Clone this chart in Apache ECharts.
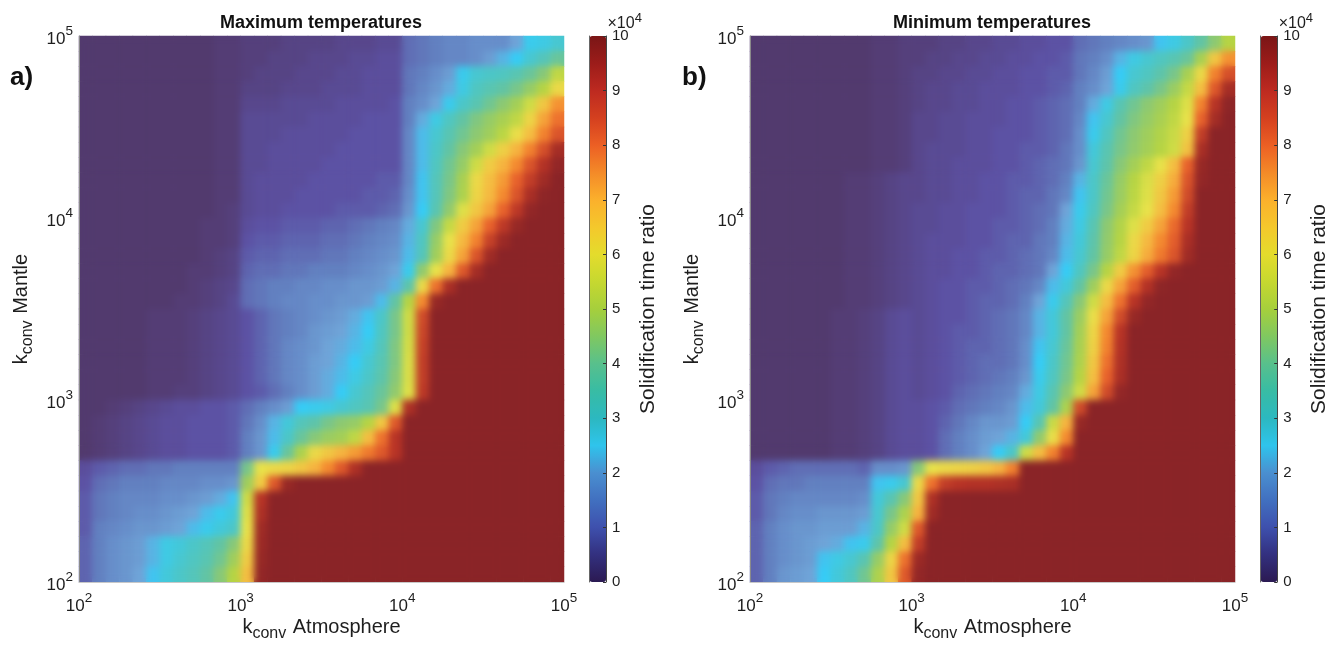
<!DOCTYPE html>
<html><head><meta charset="utf-8">
<style>html,body{margin:0;padding:0;background:#fff}#c{width:1342px;height:645px}
canvas[data-zr-dom-id="zr_1"]{filter:blur(3.5px);clip-path:path('M79 36H564V582H79Z M750 36H1235V582H750Z')}</style>
<script src="https://cdn.jsdelivr.net/npm/echarts@6/dist/echarts.min.js"></script>
</head><body><div id="c"></div>
<script>
// Cell values in thousands; rows run top to bottom (k Mantle 1e5 -> 1e2), columns left to right (k Atmosphere 1e2 -> 1e5).
const maxTemps = [
[3,3,3,3,3,3,3,3,3,3,4,4, 5,5,5,6,6,6,6,7,7,7,8,8, 13,14,15,16,16,17,17,17,20,26,27,29],
[3,3,3,3,3,3,3,3,3,3,4,4, 5,5,6,6,6,7,7,7,8,8,9,9, 13,14,15,16,16,17,19,22,25,29,32,36],
[3,3,3,3,3,3,3,3,3,3,4,4, 5,6,6,6,7,7,7,8,8,9,9,9, 14,15,17,19,26,29,30,31,33,36,40,52],
[3,3,3,3,3,3,3,3,3,3,4,4, 6,6,6,7,7,7,8,8,8,9,9,9, 14,16,18,21,27,31,33,35,38,43,50,62],
[3,3,3,3,3,3,3,3,3,3,4,4, 7,7,7,8,8,8,8,9,9,9,9,10, 15,17,20,26,30,33,37,41,46,55,66,74],
[3,3,3,3,3,3,3,3,3,3,4,4, 8,8,8,8,8,9,9,9,9,10,10,10, 15,21,27,31,35,39,43,47,52,63,72,78],
[3,3,3,3,3,3,3,3,3,3,4,4, 8,8,8,9,9,9,9,9,10,10,10,10, 16,23,29,33,37,41,45,51,61,68,76,83],
[3,3,3,3,3,3,3,3,3,3,4,4, 8,8,9,9,9,9,9,10,10,10,10,10, 16,23,30,35,40,46,55,64,70,76,84,94],
[3,3,3,3,3,3,3,3,3,3,4,4, 8,8,9,9,9,9,10,10,10,10,10,10, 16,23,31,37,43,55,65,70,75,83,91,98],
[3,3,3,3,3,3,3,3,3,3,4,4, 8,9,9,9,9,10,10,10,10,10,11,11, 16,24,32,38,47,62,68,73,80,88,95,100],
[3,3,3,3,3,3,3,3,3,3,4,4, 8,9,9,9,10,10,10,10,10,11,11,12, 17,24,32,39,48,63,69,75,83,93,99,100],
[3,3,3,3,3,3,3,3,3,3,4,5, 8,9,9,10,10,10,10,11,11,11,12,13, 18,25,33,42,58,66,72,80,89,98,100,100],
[3,3,3,3,3,3,3,3,3,4,4,5, 9,10,10,11,11,11,12,12,13,14,15,16, 21,29,39,53,65,72,80,89,97,100,100,100],
[3,3,3,3,3,3,3,3,3,4,4,5, 10,11,11,12,12,12,13,13,14,15,16,17, 22,31,43,60,69,76,87,96,100,100,100,100],
[3,3,3,3,3,3,3,3,3,4,5,6, 11,12,12,13,13,13,14,14,15,16,17,18, 23,32,45,62,72,83,95,100,100,100,100,100],
[3,3,3,3,3,3,3,3,4,4,5,6, 12,13,13,14,14,15,15,15,16,17,18,20, 26,42,60,70,82,94,100,100,100,100,100,100],
[3,3,3,3,3,3,3,3,4,5,6,7, 13,14,15,15,16,16,17,17,18,18,19,22, 34,62,78,93,100,100,100,100,100,100,100,100],
[3,3,3,3,3,3,3,4,4,5,6,8, 13,14,15,16,16,17,17,18,18,19,23,35, 50,75,97,100,100,100,100,100,100,100,100,100],
[3,3,3,3,3,4,4,4,5,6,7,8, 10,12,14,15,16,17,18,19,21,24,30,38, 55,85,100,100,100,100,100,100,100,100,100,100],
[3,3,3,3,3,4,4,4,5,6,7,8, 10,12,14,15,16,18,19,20,22,25,31,38, 55,86,100,100,100,100,100,100,100,100,100,100],
[3,3,3,3,3,4,4,4,5,6,7,8, 10,12,14,16,17,18,20,21,23,27,32,39, 56,87,100,100,100,100,100,100,100,100,100,100],
[3,3,3,3,3,4,4,4,5,6,7,8, 10,12,14,16,17,19,20,22,25,29,33,39, 57,88,100,100,100,100,100,100,100,100,100,100],
[3,3,3,3,3,4,4,4,5,6,7,8, 10,12,14,16,17,19,21,23,27,30,34,40, 57,88,100,100,100,100,100,100,100,100,100,100],
[3,3,3,3,3,4,4,5,5,6,7,8, 10,11,13,15,17,19,21,25,29,32,36,42, 58,89,100,100,100,100,100,100,100,100,100,100],
[3,3,4,5,6,7,8,9,9,10,10,11, 13,15,17,19,25,26,27,29,31,33,38,58, 92,100,100,100,100,100,100,100,100,100,100,100],
[3,4,5,6,7,8,9,9,10,10,10,11, 14,17,22,28,32,34,38,41,43,50,66,82, 100,100,100,100,100,100,100,100,100,100,100,100],
[3,4,5,6,7,8,9,9,10,10,10,11, 15,18,23,30,36,40,44,46,52,68,78,90, 100,100,100,100,100,100,100,100,100,100,100,100],
[3,4,5,6,7,8,9,9,10,10,10,11, 15,18,26,36,48,62,66,70,73,77,82,90, 100,100,100,100,100,100,100,100,100,100,100,100],
[9,11,12,13,13,14,14,15,15,15,15,15, 38,60,62,63,66,70,75,82,92,100,100,100, 100,100,100,100,100,100,100,100,100,100,100,100],
[10,13,14,15,15,15,16,16,16,17,17,18, 45,65,82,97,100,100,100,100,100,100,100,100, 100,100,100,100,100,100,100,100,100,100,100,100],
[11,14,15,16,16,16,17,17,18,19,21,24, 55,90,100,100,100,100,100,100,100,100,100,100, 100,100,100,100,100,100,100,100,100,100,100,100],
[11,14,15,16,17,17,18,19,20,23,26,28, 58,92,100,100,100,100,100,100,100,100,100,100, 100,100,100,100,100,100,100,100,100,100,100,100],
[11,15,16,17,18,18,19,20,23,26,28,30, 60,95,100,100,100,100,100,100,100,100,100,100, 100,100,100,100,100,100,100,100,100,100,100,100],
[12,15,17,18,19,22,27,28,30,32,35,40, 62,96,100,100,100,100,100,100,100,100,100,100, 100,100,100,100,100,100,100,100,100,100,100,100],
[12,15,17,18,19,22,27,29,31,33,37,45, 65,97,100,100,100,100,100,100,100,100,100,100, 100,100,100,100,100,100,100,100,100,100,100,100],
[12,15,17,18,20,24,28,30,32,35,40,50, 68,98,100,100,100,100,100,100,100,100,100,100, 100,100,100,100,100,100,100,100,100,100,100,100]
];
const minTemps = [
[3,3,3,3,3,3,3,3,3,4,4,5, 5,5,6,6,7,7,8,8,9,9,10,10, 13,14,15,16,17,18,24,27,30,35,41,50],
[3,3,3,3,3,3,3,3,3,4,4,5, 5,6,6,7,7,8,8,9,9,10,10,11, 14,15,17,22,27,29,31,33,36,47,66,74],
[3,3,3,3,3,3,3,3,3,4,4,5, 6,6,7,7,8,8,9,9,10,10,11,11, 14,16,19,25,29,31,34,38,47,62,76,84],
[3,3,3,3,3,3,3,3,3,4,4,5, 6,7,7,8,8,9,9,9,10,10,11,12, 15,17,20,26,31,34,38,44,53,68,82,94],
[3,3,3,3,3,3,3,3,3,4,4,5, 6,7,7,8,8,9,9,10,10,11,12,13, 15,21,27,33,37,41,45,50,58,76,90,99],
[3,3,3,3,3,3,3,3,3,4,4,5, 7,7,8,8,9,9,9,10,10,11,12,13, 16,24,29,35,39,43,47,52,60,80,94,100],
[3,3,3,3,3,3,3,3,3,4,4,5, 7,7,8,8,9,9,10,10,10,11,12,13, 17,26,31,37,41,45,49,54,64,88,100,100],
[3,3,3,3,3,3,3,3,3,4,4,5, 7,8,8,8,9,9,10,10,11,11,12,14, 17,28,33,38,42,46,50,55,67,93,100,100],
[3,3,3,3,3,3,3,3,3,4,4,5, 7,8,8,9,9,9,10,10,11,12,13,14, 18,29,34,40,46,52,60,68,80,97,100,100],
[3,3,3,3,3,3,3,4,4,5,6,7, 7,8,8,9,9,10,10,11,11,12,13,15, 22,30,36,43,50,57,64,71,83,98,100,100],
[3,3,3,3,3,3,3,4,4,5,6,7, 7,8,8,9,9,10,10,11,12,12,14,16, 24,30,37,44,51,58,66,73,85,100,100,100],
[3,3,3,3,3,3,3,4,4,5,6,7, 8,8,9,9,10,10,10,11,12,13,14,20, 26,31,38,46,53,60,68,75,88,100,100,100],
[3,3,3,3,3,3,3,4,4,5,6,7, 8,8,9,9,10,10,11,11,12,13,15,21, 27,33,41,49,58,65,72,79,90,100,100,100],
[3,3,3,3,3,3,3,4,4,5,6,7, 8,9,9,9,10,10,11,12,12,14,15,22, 28,34,42,50,62,69,75,81,93,100,100,100],
[3,3,3,3,3,3,3,4,4,5,6,7, 8,9,9,10,10,11,11,12,13,14,16,23, 29,35,43,52,63,71,77,83,95,100,100,100],
[3,3,3,3,3,3,3,4,4,5,6,7, 8,9,9,10,10,11,12,12,13,14,20,25, 31,38,50,65,74,81,90,98,100,100,100,100],
[3,3,3,3,3,3,3,4,4,5,6,7, 8,9,10,10,11,11,12,13,14,16,23,28, 35,45,62,72,81,91,99,100,100,100,100,100],
[3,3,3,3,3,3,3,4,4,5,6,7, 8,9,10,10,11,12,12,13,15,20,26,32, 40,55,68,78,90,98,100,100,100,100,100,100],
[3,3,3,3,3,3,4,4,5,6,8,9, 8,9,10,10,11,12,13,14,16,22,28,35, 44,61,72,85,97,100,100,100,100,100,100,100],
[3,3,3,3,3,3,4,4,5,6,8,9, 8,9,10,11,11,12,13,14,16,22,28,35, 46,63,75,90,100,100,100,100,100,100,100,100],
[3,3,3,3,3,3,4,4,5,6,8,9, 8,9,10,11,12,12,13,14,17,24,29,36, 47,64,76,91,100,100,100,100,100,100,100,100],
[3,3,3,3,3,3,4,4,5,6,8,9, 8,9,10,11,12,13,13,14,17,25,30,37, 48,66,78,92,100,100,100,100,100,100,100,100],
[3,3,3,3,3,3,4,4,5,6,8,9, 8,9,10,11,12,13,14,15,18,26,31,38, 50,68,80,93,100,100,100,100,100,100,100,100],
[3,3,3,3,3,3,4,4,5,6,8,9, 8,9,10,12,13,14,15,16,21,27,33,41, 55,72,85,98,100,100,100,100,100,100,100,100],
[3,3,3,3,3,3,4,4,5,6,8,9, 9,10,11,13,14,15,16,18,23,28,35,48, 85,100,100,100,100,100,100,100,100,100,100,100],
[3,3,3,3,3,3,4,4,5,6,8,9, 9,10,12,14,16,18,18,19,25,33,54,70, 97,100,100,100,100,100,100,100,100,100,100,100],
[3,3,3,3,3,3,4,4,5,6,8,9, 9,10,13,15,17,19,20,22,28,42,61,75, 100,100,100,100,100,100,100,100,100,100,100,100],
[3,3,3,3,3,3,4,4,5,6,8,9, 9,10,13,15,17,20,25,30,55,68,76,90, 100,100,100,100,100,100,100,100,100,100,100,100],
[9,11,12,13,13,13,13,13,12,17,17,18, 40,60,62,63,64,66,70,76,100,100,100,100, 100,100,100,100,100,100,100,100,100,100,100,100],
[10,13,14,14,15,15,15,15,15,24,26,29, 62,78,88,90,91,91,92,93,100,100,100,100, 100,100,100,100,100,100,100,100,100,100,100,100],
[11,14,15,16,16,16,16,16,17,28,33,40, 66,92,100,100,100,100,100,100,100,100,100,100, 100,100,100,100,100,100,100,100,100,100,100,100],
[11,14,16,17,17,18,18,18,19,29,38,48, 70,95,100,100,100,100,100,100,100,100,100,100, 100,100,100,100,100,100,100,100,100,100,100,100],
[12,15,17,18,18,19,19,19,22,30,43,55, 82,100,100,100,100,100,100,100,100,100,100,100, 100,100,100,100,100,100,100,100,100,100,100,100],
[12,15,17,18,19,20,21,24,26,34,50,68, 88,100,100,100,100,100,100,100,100,100,100,100, 100,100,100,100,100,100,100,100,100,100,100,100],
[12,15,17,18,19,24,27,29,33,43,63,78, 96,100,100,100,100,100,100,100,100,100,100,100, 100,100,100,100,100,100,100,100,100,100,100,100],
[12,15,18,19,20,25,28,31,37,48,66,82, 98,100,100,100,100,100,100,100,100,100,100,100, 100,100,100,100,100,100,100,100,100,100,100,100]
];
const titles = ['Maximum temperatures','Minimum temperatures'];
const panelTags = ['a)','b)'];
const colorbarLabel = 'Solidification time ratio';
const plotRamp = ['#4e3058','#55407c','#5c52a4','#6280c0','#6fa4d8','#36ccf6','#4cc6c8','#62c4a4','#88c878','#a0ce5c','#b6d444','#cfdc46','#e8e24a','#f0cc44','#f6b440','#f48a30','#e8622c','#d04c2a','#b83426','#a02c26','#8a2427'];
const barRamp = ['#2b1a52','#33307f','#3e50ad','#4170c0','#4a8fd0','#2fc4ec','#2cb8c0','#38bca4','#58c08c','#80c860','#a6cf3c','#c6d830','#e4dc2c','#f4c82c','#fbb02c','#f48a28','#ec5f24','#d4401f','#bd2a20','#9c1c1a','#7a1616'];

const ink = '#1e1e1e';
const font = 'Liberation Sans, Arial, sans-serif';
const n = 36;
const cats = Array.from({length:n},(_,i)=>i);
function cells(rows){const o=[];rows.forEach((r,t)=>r.forEach((v,c)=>o.push([c,n-1-t,v*1000])));return o;}
const plots=[{l:79,w:485},{l:750,w:485}];
const bars=[{l:589.5,w:16.5},{l:1260.7,w:16.5}];
const gridTop=36,gridH=546;
const sup={fontSize:13.5,fontFamily:font,color:ink,verticalAlign:'top',lineHeight:13};
const tickLab={fontSize:17,fontFamily:font,color:ink,lineHeight:24,verticalAlign:'bottom'};
const tickFmt=v=>'{b|10}{s|'+Math.round(Math.log10(v))+'}';
const nameRich={b:{fontSize:20,fontFamily:font,color:ink,lineHeight:24},s:{fontSize:16,fontFamily:font,color:ink,lineHeight:20,padding:[14,1,0,0]}};
const nameAtm='{b|k}{s|conv}{b| Atmosphere}', nameMan='{b|k}{s|conv}{b| Mantle}';

const grid=[],xAxis=[],yAxis=[],series=[];
plots.forEach((p,i)=>{
  grid.push({left:p.l,top:gridTop,width:p.w,height:gridH,outerBoundsMode:'none'});
  xAxis.push({type:'category',gridIndex:i,data:cats,show:false});
  yAxis.push({type:'category',gridIndex:i,data:cats,show:false});
  xAxis.push({type:'log',logBase:10,gridIndex:i,min:100,max:100000,position:'bottom',zlevel:2,
    name:nameAtm,nameLocation:'middle',nameGap:33,nameMoveOverlap:false,nameTextStyle:{rich:nameRich},
    axisLine:{show:true,lineStyle:{color:'#c8c8c8',width:1}},axisTick:{show:false},minorTick:{show:false},splitLine:{show:false},
    axisLabel:{formatter:tickFmt,margin:9,rich:{b:tickLab,s:sup},showMinLabel:true,showMaxLabel:true,hideOverlap:false}});
  yAxis.push({type:'log',logBase:10,gridIndex:i,min:100,max:100000,position:'left',zlevel:2,
    name:nameMan,nameLocation:'middle',nameGap:46,nameRotate:90,nameTextStyle:{rich:nameRich},
    axisLine:{show:true,lineStyle:{color:'#8a8a8a',width:1}},axisTick:{show:false},minorTick:{show:false},splitLine:{show:false},
    axisLabel:{formatter:tickFmt,margin:6,rich:{b:tickLab,s:sup},showMinLabel:true,showMaxLabel:true,hideOverlap:false}});
});
// Each panel's cells go down twice: a crisp base layer and a softened copy above it, reproducing the shaded look.
[0,1].forEach(layer=>plots.forEach((p,i)=>{
  series.push({type:'heatmap',zlevel:layer,xAxisIndex:i*2,yAxisIndex:i*2,data:cells(i?minTemps:maxTemps),itemStyle:{borderWidth:0},emphasis:{disabled:true},progressive:0,animation:false,silent:true});
}));
bars.forEach((b,i)=>{
  grid.push({left:b.l,top:gridTop,width:b.w,height:gridH,outerBoundsMode:'none'});
  xAxis.push({type:'value',gridIndex:2+i,show:false,min:0,max:1});
  yAxis.push({type:'value',gridIndex:2+i,min:0,max:100000,interval:10000,position:'right',z:10,
    axisLine:{show:true,onZero:false,lineStyle:{color:'#444',width:1}},axisTick:{show:true,inside:true,length:3,lineStyle:{color:'#333'}},splitLine:{show:false},
    axisLabel:{fontSize:15,fontFamily:font,color:ink,margin:6,formatter:v=>String(v/10000)},
    name:colorbarLabel,nameLocation:'middle',nameGap:32,nameRotate:90,nameTextStyle:{fontSize:21,fontFamily:font,color:ink}});
  yAxis.push({type:'value',gridIndex:2+i,min:0,max:100000,position:'left',z:10,
    axisLine:{show:true,onZero:false,lineStyle:{color:'#666',width:1}},axisTick:{show:false},axisLabel:{show:false},splitLine:{show:false}});
});
const visualMap=[
 {show:false,type:'continuous',min:0,max:100000,seriesIndex:[0,1,2,3],dimension:2,inRange:{color:plotRamp}},
 ...bars.map(b=>({show:true,type:'continuous',min:0,max:100000,seriesIndex:[],left:b.l,top:gridTop,itemWidth:b.w,itemHeight:gridH,padding:0,text:null,showLabel:false,calculable:false,hoverLink:false,realtime:false,inRange:{color:barRamp},textStyle:{color:'transparent',fontSize:1}}))
];
const gText=(text,x,y,fnt,align,extra)=>({type:'text',silent:true,z:20,style:Object.assign({text,x,y,font:fnt,fill:'#111',align:align||'center',verticalAlign:'middle'},extra||{})});
const graphic=[
 gText(titles[0],321,23,'bold 18px '+font),
 gText(titles[1],992,23,'bold 18px '+font),
 gText(panelTags[0],10,78,'bold 26px '+font,'left'),
 gText(panelTags[1],682,78,'bold 26px '+font,'left'),
 ...bars.map(b=>gText('{a|\u00d710}{e|4}',b.l+18,22,'16px '+font,'left',{rich:{a:{fontSize:16,fontFamily:font,fill:ink,lineHeight:20,verticalAlign:'bottom'},e:{fontSize:13,fontFamily:font,fill:ink,verticalAlign:'top',lineHeight:13}}}))
];
const chart=echarts.init(document.getElementById('c'),null,{renderer:'canvas'});
chart.setOption({animation:false,backgroundColor:'#fff',tooltip:{show:false},grid,xAxis,yAxis,series,visualMap,graphic});
</script></body></html>
